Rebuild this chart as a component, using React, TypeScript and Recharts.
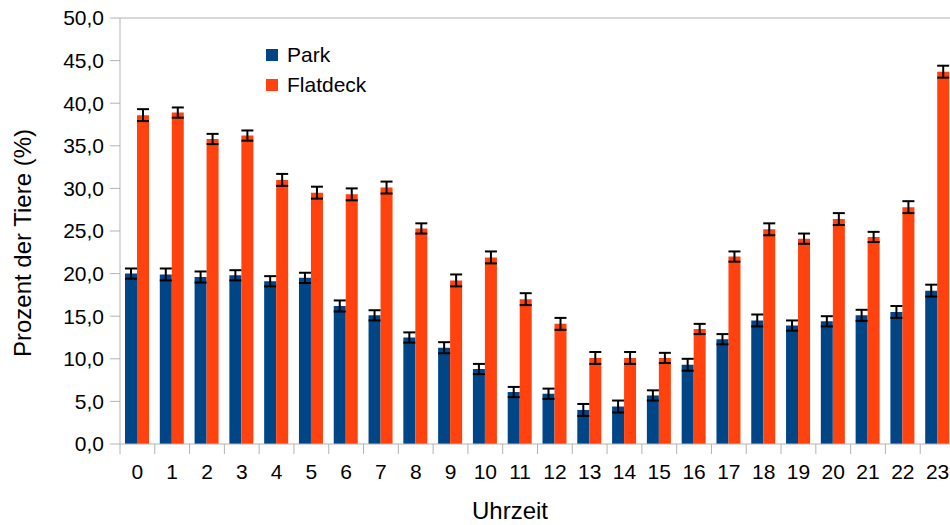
import type { JSX } from 'react'
import { BarChart, Bar, XAxis, YAxis, ErrorBar, Legend, ReferenceLine } from 'recharts'

// Stunde des Tages
const hours: string[] = ['0', '1', '2', '3', '4', '5', '6', '7', '8', '9', '10', '11',
  '12', '13', '14', '15', '16', '17', '18', '19', '20', '21', '22', '23']

const park: number[] = [20.0, 19.9, 19.6, 19.8, 19.1, 19.5, 16.2, 15.1, 12.5, 11.3, 8.8, 6.1,
  5.9, 4.0, 4.4, 5.7, 9.3, 12.3, 14.5, 13.9, 14.4, 15.1, 15.5, 18.0]
const parkErr: number[] = [0.6, 0.7, 0.65, 0.6, 0.6, 0.6, 0.65, 0.6, 0.6, 0.65, 0.6, 0.6,
  0.6, 0.7, 0.7, 0.6, 0.7, 0.6, 0.7, 0.6, 0.6, 0.65, 0.7, 0.7]

const flatdeck: number[] = [38.6, 38.9, 35.8, 36.2, 31.0, 29.5, 29.3, 30.1, 25.3, 19.2, 21.9, 17.0,
  14.1, 10.1, 10.1, 10.1, 13.5, 22.0, 25.2, 24.1, 26.4, 24.3, 27.8, 43.7]
const flatdeckErr: number[] = [0.7, 0.6, 0.6, 0.6, 0.7, 0.7, 0.7, 0.7, 0.6, 0.7, 0.7, 0.7,
  0.7, 0.7, 0.7, 0.6, 0.6, 0.6, 0.7, 0.6, 0.7, 0.6, 0.7, 0.7]

const yTicks: number[] = [0, 5, 10, 15, 20, 25, 30, 35, 40, 45, 50]

const data = hours.map((h, i) => ({
  hour: h,
  park: park[i],
  parkErr: parkErr[i],
  flatdeck: flatdeck[i],
  flatdeckErr: flatdeckErr[i],
}))

const FONT = '"Liberation Sans", Arial, sans-serif'
const AXIS = '#b3b3b3'
const PARK = '#004586'
const FLAT = '#ff420e'
const TICK = 10
const TICK_GAP = 10

const legendItems = [
  { label: 'Park', color: PARK },
  { label: 'Flatdeck', color: FLAT },
]

const LegendBox = (): JSX.Element => (
  <div style={{ fontFamily: FONT, fontSize: 21, color: '#000' }}>
    {legendItems.map((it) => (
      <div key={it.label} style={{ display: 'flex', alignItems: 'center', height: 30 }}>
        <span style={{ width: 12, height: 12, background: it.color, marginRight: 9, display: 'inline-block' }} />
        {it.label}
      </div>
    ))}
  </div>
)

// tick marks sit between the categories (like LibreOffice), label in the middle
const HourTick = (props: any): JSX.Element => {
  const { x, y, payload } = props
  const half = payload?.offset ?? 0
  const axisY = y - TICK - TICK_GAP
  return (
    <g>
      <line x1={x - half} x2={x - half} y1={axisY} y2={axisY + TICK} stroke={AXIS} />
      <text x={x} y={y} dy="0.71em" textAnchor="middle" fontSize={21} fontFamily={FONT} fill="#000">
        {payload.value}
      </text>
    </g>
  )
}

export default function App(): JSX.Element {
  return (
    <div style={{ position: 'absolute', left: 0, top: 0, width: 950, height: 525, overflow: 'hidden', background: '#fff' }}>
      <BarChart
        width={960}
        height={525}
        data={data}
        margin={{ top: 18, right: 5, bottom: 0, left: 0 }}
        barGap={0}
        barSize={12}
      >
        <XAxis
          dataKey="hour"
          height={81}
          stroke={AXIS}
          tickLine={false}
          tickSize={TICK}
          tickMargin={TICK_GAP}
          tick={<HourTick />}
          interval={0}
          label={() => (
            <text x={510} y={519} textAnchor="middle" fontSize={24} fontFamily={FONT} fill="#000">Uhrzeit</text>
          )}
        />
        <YAxis
          width={120}
          domain={[0, 50]}
          ticks={yTicks}
          allowDataOverflow
          stroke={AXIS}
          tickSize={10}
          tickMargin={6}
          tick={{ fill: '#000', fontSize: 21, fontFamily: FONT }}
          tickFormatter={(v: number) => v.toFixed(1).replace('.', ',')}
          label={() => (
            <text x={22} y={243} transform="rotate(-90 22 243)" textAnchor="middle" dominantBaseline="central"
              fontSize={24} fontFamily={FONT} fill="#000">Prozent der Tiere (%)</text>
          )}
        />
        <ReferenceLine y={50} stroke={AXIS} strokeWidth={1} />
        <Legend
          layout="vertical"
          align="center"
          verticalAlign="middle"
          wrapperStyle={{ top: 40, left: 266, width: 'auto', height: 'auto' }}
          content={() => <LegendBox />}
        />
        <Bar dataKey="park" name="Park" fill={PARK} isAnimationActive={false}>
          <ErrorBar dataKey="parkErr" direction="y" width={6} strokeWidth={2} stroke="#000" isAnimationActive={false} />
        </Bar>
        <Bar dataKey="flatdeck" name="Flatdeck" fill={FLAT} isAnimationActive={false}>
          <ErrorBar dataKey="flatdeckErr" direction="y" width={6} strokeWidth={2} stroke="#000" isAnimationActive={false} />
        </Bar>
      </BarChart>
    </div>
  )
}
